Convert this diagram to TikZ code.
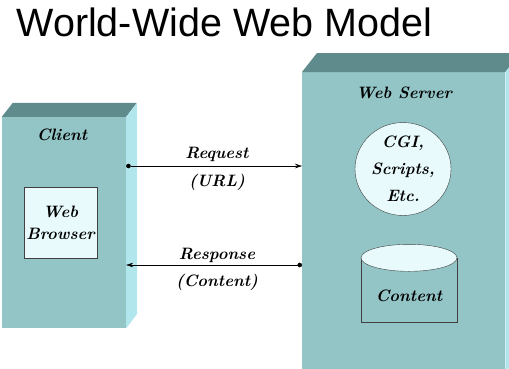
\documentclass[tikz,border=0pt]{standalone}
\usepackage{fontspec}
\newfontfamily\titlefont{Liberation Sans}
\usetikzlibrary{positioning,shapes.geometric,arrows.meta}
\definecolor{boxfront}{RGB}{147,196,198}
\definecolor{boxtop}{RGB}{96,139,141}
\definecolor{boxside}{RGB}{178,230,237}
\definecolor{paleface}{RGB}{232,250,252}
\begin{document}
\begin{tikzpicture}[
        x=1pt, y=-1pt,
        font=\rmfamily\fontsize{16.5}{22}\selectfont\bfseries\itshape,
        face/.style={
            fill=boxfront,
            inner sep=0pt
        },
        part/.style={
            draw=black!75,
            fill=paleface,
            align=center,
            inner sep=0pt
        },
        link/.style={
            thin,
            {Circle[length=4.5pt]}-{Stealth[length=7pt,width=4.5pt]}
        }
    ]
    \useasboundingbox (0,0) rectangle (509,368);
    % Titel
    \node[anchor=base west, font=\titlefont\fontsize{39.5}{40}\selectfont] (title)
        at (13,36) {World-Wide Web Model};
    % Client
    \node[face, minimum width=124pt, minimum height=211pt] (client) at (64,222.5) {};
    \fill[boxtop] (client.north west) -- ++(11,-14) -- ++(124,0) -- (client.north east) -- cycle;
    \fill[boxside] (client.north east) -- ++(11,-14) -- ++(0,211) -- (client.south east) -- cycle;
    \node (clientname) at (62,135) {Client};
    \node[part, minimum width=73pt, minimum height=71pt] (browser) at (60.5,222.5) {Web\\Browser};
    % Web Server
    \node[face, anchor=north west, minimum width=203pt, minimum height=300pt] (server) at (302,72) {};
    \fill[boxtop] (server.north west) -- ++(15,-19) -- ++(203,0) -- (server.north east) -- cycle;
    \fill[boxside] (server.north east) -- ++(15,-19) -- ++(0,300) -- (server.south east) -- cycle;
    \node (servername) at (404,93) {Web Server};
    \node[part, ellipse, minimum width=96pt, minimum height=92pt,
        font=\rmfamily\fontsize{16.5}{27}\selectfont\bfseries\itshape] (cgi) at (403,169) {CGI,\\Scripts,\\Etc.};
    \node[draw=black!75, fill=boxfront, minimum width=96pt, minimum height=64pt, inner sep=0pt] (content)
        at (409,290) {};
    \draw[draw=black!75, fill=paleface] (content.north) ellipse [x radius=48, y radius=13.5];
    \node (contentname) at (409,296) {Content};
    % Verbindungen
    \coordinate (reqmid) at (217,166);
    \coordinate (respmid) at (217,265);
    \draw[link] (client.east |- reqmid) -- (server.west |- reqmid);
    \draw[link] (server.west |- respmid) -- (client.east |- respmid);
    \node (request) at (217,154) {Request};
    \node (url) at (217,182) {(URL)};
    \node (response) at (217,255) {Response};
    \node (reply) at (217,282) {(Content)};
\end{tikzpicture}
\end{document}
